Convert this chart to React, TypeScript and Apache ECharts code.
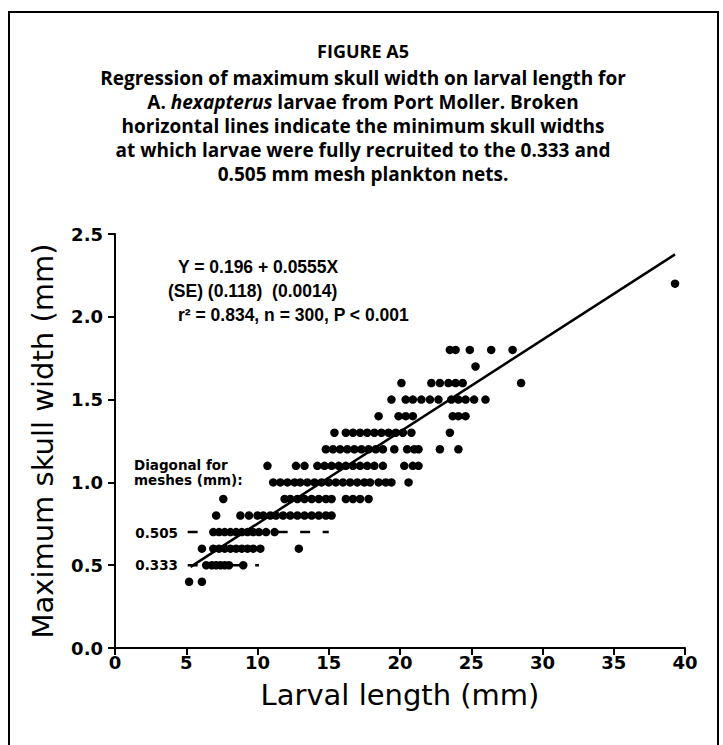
import React, { useEffect, useRef } from "react";
import * as echarts from "echarts";

// ---- data ----
const xAxisMin = 0;
const xAxisMax = 40;
const xAxisStep = 5;
const yAxisMin = 0;
const yAxisMax = 2.5;
const yAxisStep = 0.5;

// x values (larval length, mm) of the dots in each skull-width row
const row04 = [5.2, 6.1];
const row05 = [6.4, 6.8, 7.1, 7.4, 7.7, 8.0, 9.0];
const row06 = [6.1, 6.9, 7.3, 7.7, 8.1, 8.5, 8.9, 9.3, 9.7, 10.2, 12.9];
const row07 = [6.9, 7.3, 7.7, 8.1, 8.5, 8.9, 9.3, 9.7, 10.1, 10.6, 11.2];
const row08 = [7.1, 8.8, 9.4, 10.0, 10.4, 10.9, 11.3, 11.8, 12.3, 12.8, 13.3, 13.8, 14.3, 14.8, 15.2];
const row09 = [7.6, 11.9, 12.3, 12.8, 13.3, 13.8, 14.3, 14.8, 15.2, 16.2, 16.7, 17.2, 17.8];
const row10 = [11.1, 11.6, 12.1, 12.6, 13.0, 13.5, 14.0, 14.5, 15.0, 15.5, 16.0, 16.5, 17.0, 17.5, 17.9, 18.5, 19.0, 19.4, 20.6];
const row11 = [10.7, 12.7, 13.3, 14.2, 14.7, 15.2, 15.7, 16.2, 16.7, 17.2, 17.7, 18.2, 18.8, 20.3, 20.9, 21.3];
const row12 = [14.8, 15.3, 15.8, 16.3, 16.8, 17.3, 17.8, 18.3, 18.8, 19.6, 20.5, 21.0, 21.3, 22.8, 24.1];
const row13 = [15.4, 16.2, 16.7, 17.2, 17.7, 18.2, 18.7, 19.2, 19.7, 20.2, 20.8, 23.5];
const row14 = [18.5, 19.9, 20.4, 20.9, 23.7, 24.1, 24.6];
const row15 = [19.4, 20.4, 20.9, 21.5, 22.1, 22.7, 23.6, 24.1, 24.6, 25.2, 26.0];
const row16 = [20.1, 22.2, 22.8, 23.4, 23.9, 24.4, 28.5];
const row17 = [25.3];
const row18 = [23.5, 23.9, 24.9, 26.4, 27.9];
const row22 = [39.3];

const rowWidths = [0.4, 0.5, 0.6, 0.7, 0.8, 0.9, 1.0, 1.1, 1.2, 1.3, 1.4, 1.5, 1.6, 1.7, 1.8, 2.2];
const rowLengths = [row04, row05, row06, row07, row08, row09, row10, row11, row12, row13, row14, row15, row16, row17, row18, row22];

// regression Y = a + bX
const regA = 0.196;
const regB = 0.0555;
const regXStart = 5.3;
const regXEnd = 39.3;

// broken horizontal lines (minimum skull widths fully recruited)
const mesh505Width = 0.7;
const mesh505Range = [5.1, 15.0];
const mesh333Width = 0.5;
const mesh333Range = [5.1, 10.1];

const titleLines = [
  "FIGURE A5",
  "Regression of maximum skull width on larval length for",
  "A. {i|hexapterus} larvae from Port Moller. Broken",
  "horizontal lines indicate the minimum skull widths",
  "at which larvae were fully recruited to the 0.333 and",
  "0.505 mm mesh plankton nets.",
];
const equationLines = [
  "Y = 0.196 + 0.0555X",
  "(SE) (0.118)  (0.0014)",
  "r² = 0.834, n = 300, P < 0.001",
];
const meshNoteLines = ["Diagonal for", "meshes (mm):"];
const meshLabels = ["0.505", "0.333"];
const xAxisTitle = "Larval length (mm)";
const yAxisTitle = "Maximum skull width (mm)";

const W = 723;
const H = 745;

function buildOption() {
  const points: number[][] = [];
  rowWidths.forEach((w, i) => {
    rowLengths[i].forEach((x) => points.push([x, w]));
  });
  const regLine = [
    [regXStart, regA + regB * regXStart],
    [regXEnd, regA + regB * regXEnd],
  ];
  const titleFont = "'Open Sans', 'Noto Sans', sans-serif";
  const graphics: any[] = [
    {
      type: "rect",
      shape: { x: 9, y: 12, width: 709, height: 800 },
      style: { fill: "none", stroke: "#000", lineWidth: 2 },
      silent: true,
    },
  ];
  const titleYs = [51, 78, 102, 126, 150, 174];
  titleLines.forEach((t, i) => {
    graphics.push({
      type: "text",
      x: 363,
      y: titleYs[i],
      style: {
        text: t,
        fill: "#000",
        font: `bold ${i === 0 ? 18 : 19}px ${titleFont}`,
        align: "center",
        verticalAlign: "middle",
        rich: {
          i: { fontStyle: "italic", fontWeight: "bold", fontSize: 19, fontFamily: titleFont },
        },
      },
    });
  });
  const eqXs = [178, 168, 178];
  const eqYs = [267, 291, 315];
  equationLines.forEach((t, i) => {
    graphics.push({
      type: "text",
      x: eqXs[i],
      y: eqYs[i],
      style: {
        text: t,
        fill: "#000",
        font: "bold 17.5px 'Liberation Sans', Arial, sans-serif",
        align: "left",
        verticalAlign: "middle",
      },
    });
  });
  const smallFont = "bold 13.5px 'DejaVu Sans', sans-serif";
  graphics.push(
    { type: "text", x: 134, y: 465, style: { text: meshNoteLines[0], fill: "#000", font: smallFont, align: "left", verticalAlign: "middle" } },
    { type: "text", x: 134, y: 480, style: { text: meshNoteLines[1], fill: "#000", font: smallFont, align: "left", verticalAlign: "middle" } },
    { type: "text", x: 178, y: 533, style: { text: meshLabels[0], fill: "#000", font: smallFont, align: "right", verticalAlign: "middle" } },
    { type: "text", x: 178, y: 565, style: { text: meshLabels[1], fill: "#000", font: smallFont, align: "right", verticalAlign: "middle" } }
  );

  const axisText = { color: "#000", fontWeight: "bold" as const, fontSize: 18, fontFamily: "'DejaVu Sans', sans-serif" };
  const nameText = { color: "#000", fontSize: 29, fontFamily: "'DejaVu Sans', sans-serif" };
  return {
    animation: false,
    backgroundColor: "#fff",
    grid: { left: 115, right: W - 685, top: 234, bottom: H - 648, containLabel: false },
    xAxis: {
      type: "value",
      min: xAxisMin,
      max: xAxisMax,
      interval: xAxisStep,
      name: xAxisTitle,
      nameLocation: "middle",
      nameGap: 32,
      nameTextStyle: nameText,
      axisLine: { lineStyle: { color: "#000", width: 2 } },
      axisTick: { inside: false, length: 7, lineStyle: { color: "#000", width: 2 } },
      axisLabel: { ...axisText, margin: 5 },
      splitLine: { show: false },
    },
    yAxis: {
      type: "value",
      min: yAxisMin,
      max: yAxisMax,
      interval: yAxisStep,
      name: yAxisTitle,
      nameLocation: "middle",
      nameGap: 58,
      nameTextStyle: nameText,
      axisLine: { lineStyle: { color: "#000", width: 2 } },
      axisTick: { inside: false, length: 7, lineStyle: { color: "#000", width: 2 } },
      axisLabel: { ...axisText, margin: 12, formatter: (v: number) => v.toFixed(1) },
      splitLine: { show: false },
    },
    graphic: graphics,
    series: [
      {
        type: "line",
        data: [
          [mesh505Range[0], mesh505Width],
          [mesh505Range[1], mesh505Width],
        ],
        symbol: "none",
        lineStyle: { color: "#000", width: 2.5, type: [10, 12.5] },
        silent: true,
      },
      {
        type: "line",
        data: [
          [mesh333Range[0], mesh333Width],
          [mesh333Range[1], mesh333Width],
        ],
        symbol: "none",
        lineStyle: { color: "#000", width: 2.5, type: [10, 12.5] },
        silent: true,
      },
      {
        type: "scatter",
        data: points,
        symbol: "circle",
        symbolSize: 8.5,
        itemStyle: { color: "#000", opacity: 1 },
        silent: true,
      },
      {
        type: "line",
        data: regLine,
        symbol: "none",
        lineStyle: { color: "#000", width: 2.5 },
        silent: true,
      },
    ],
  };
}

export default function App() {
  const ref = useRef<HTMLDivElement>(null);
  useEffect(() => {
    if (!ref.current) return;
    const chart = echarts.init(ref.current, null, { renderer: "svg" });
    chart.setOption(buildOption() as any);
    return () => chart.dispose();
  }, []);
  return (
    <div
      ref={ref}
      style={{ position: "absolute", left: 0, top: 0, width: W, height: H, background: "#fff" }}
    />
  );
}
